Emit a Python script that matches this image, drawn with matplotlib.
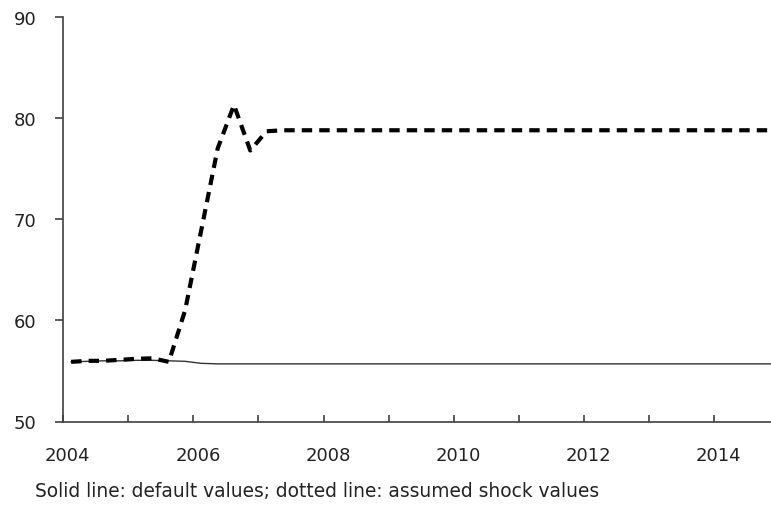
import numpy as np
import matplotlib
matplotlib.use('Agg')
import matplotlib.pyplot as plt

# quarterly data, 2004Q1 .. 2014Q4
years = [y for y in range(2004, 2015) for q in range(4)]
quarters = [q for y in range(2004, 2015) for q in range(1, 5)]

default_vals = [55.9, 55.95, 56.0, 56.0, 56.05, 56.05, 56.0, 55.95,
                55.75, 55.7, 55.7, 55.7, 55.7, 55.7, 55.7, 55.7,
                55.7, 55.7, 55.7, 55.7, 55.7, 55.7, 55.7, 55.7,
                55.7, 55.7, 55.7, 55.7, 55.7, 55.7, 55.7, 55.7,
                55.7, 55.7, 55.7, 55.7, 55.7, 55.7, 55.7, 55.7,
                55.7, 55.7, 55.7, 55.7]

shock_vals = [55.9, 56.0, 56.0, 56.1, 56.2, 56.25, 55.9, 61.0,
              69.0, 77.0, 81.3, 76.8, 78.7, 78.8, 78.8, 78.8,
              78.8, 78.8, 78.8, 78.8, 78.8, 78.8, 78.8, 78.8,
              78.8, 78.8, 78.8, 78.8, 78.8, 78.8, 78.8, 78.8,
              78.8, 78.8, 78.8, 78.8, 78.8, 78.8, 78.8, 78.8,
              78.8, 78.8, 78.8, 78.8]

year_labels = ['2004', '2006', '2008', '2010', '2012', '2014']
footnote = 'Solid line: default values; dotted line: assumed shock values'

x = np.array(years) + (np.array(quarters) - 0.5) / 4.0

fig = plt.figure(figsize=(7.71, 5.06), dpi=100)
ax = fig.add_axes([63/771, 83.5/506, (771-63)/771, 404.5/506])

ax.plot(x, default_vals, color='#333333', linewidth=1.0)
ax.plot(x, shock_vals, color='black', linewidth=3.0,
        linestyle=(0, (2.5, 1.7)), dash_capstyle='butt')

ax.set_xlim(2004, 2014.87)
ax.set_ylim(50, 90)
ax.set_yticks(range(50, 91, 10))

ax.set_xticks(range(2004, 2015))
ax.set_xticklabels([])
ax.set_xticks([int(l) + 0.07 for l in year_labels], year_labels, minor=True)

for s in ['top', 'right']:
    ax.spines[s].set_visible(False)
for s in ['left', 'bottom']:
    ax.spines[s].set_color('#404040')
    ax.spines[s].set_linewidth(1.2)

ax.tick_params(axis='y', direction='out', length=6, width=1.2,
               color='#404040', pad=13, labelsize=13, labelcolor='#222222')
ax.tick_params(axis='x', which='major', direction='in', length=5,
               width=1.2, color='#404040')
ax.tick_params(axis='x', which='minor', length=0, pad=17.5, labelsize=13,
               labelcolor='#222222')

fig.text(35/771, 1 - 492/506, footnote, fontsize=13.4, color='#222222',
         va='center', ha='left')

fig.savefig('out.png', dpi=100)
